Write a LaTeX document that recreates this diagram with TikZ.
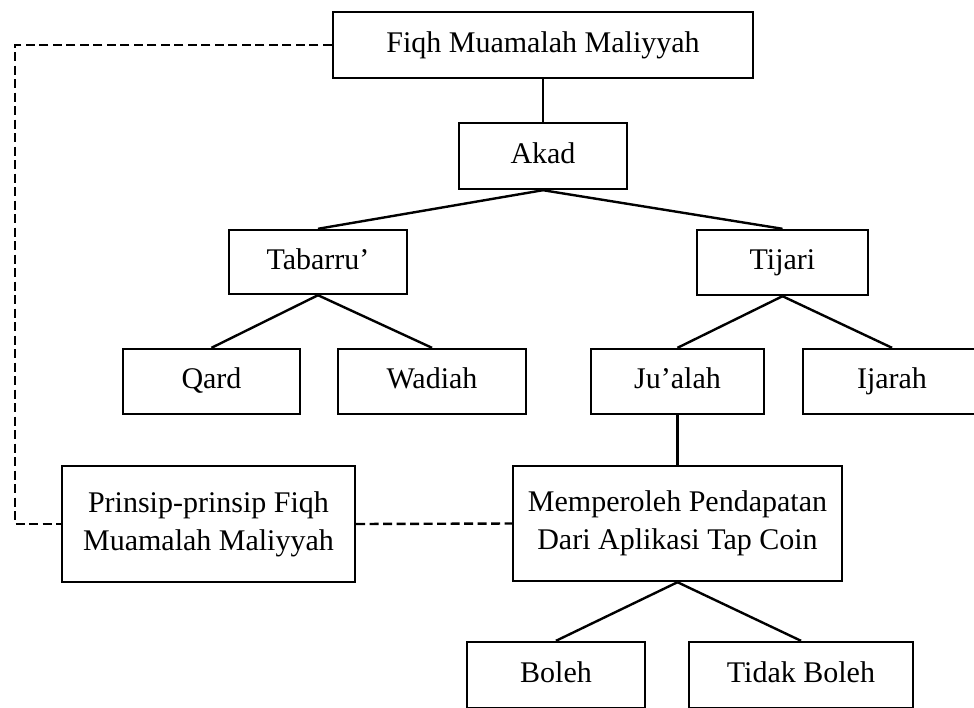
\documentclass[tikz,border=0pt]{standalone}
\usepackage{fontspec}
\setmainfont{Liberation Serif}
\begin{document}
\begin{tikzpicture}[x=1pt,y=-1pt,
  boxbase/.style={draw,line width=2.4pt,inner sep=0pt,
    font=\fontsize{30}{38}\selectfont},
  box/.style={boxbase,text height=20pt,text depth=6pt},
  box2/.style={boxbase,align=center},
  link/.style={line width=2.4pt},
  dlink/.style={line width=2.4pt,dash pattern=on 9pt off 4.5pt}]
\clip (0,0) rectangle (974,707);
\useasboundingbox (0,0) rectangle (974,707);
\node[box,minimum width=420pt,minimum height=66pt] (fiqh) at (543,45) {Fiqh Muamalah Maliyyah};
\node[box,minimum width=168pt,minimum height=66pt] (akad) at (543,156) {Akad};
\node[box,minimum width=178pt,minimum height=64pt] (tab) at (318,262) {Tabarru’};
\node[box,minimum width=171pt,minimum height=65pt] (tij) at (782.5,262.5) {Tijari};
\node[box,minimum width=177pt,minimum height=65pt] (qard) at (211.5,381.5) {Qard};
\node[box,minimum width=188pt,minimum height=65pt] (wad) at (432,381.5) {Wadiah};
\node[box,minimum width=173pt,minimum height=65pt] (jua) at (677.5,381.5) {Ju’alah};
\node[box,minimum width=178pt,minimum height=65pt] (ija) at (892,381.5) {Ijarah};
\node[box2,minimum width=293pt,minimum height=116pt] (prin) at (208.5,524) {Prinsip-prinsip Fiqh\\Muamalah Maliyyah};
\node[box2,minimum width=329pt,minimum height=115pt] (mem) at (677.5,523.5) {Memperoleh Pendapatan\\Dari Aplikasi Tap Coin};
\node[box,minimum width=178pt,minimum height=66pt] (boleh) at (556,675) {Boleh};
\node[box,minimum width=224pt,minimum height=66pt] (tidak) at (801,675) {Tidak Boleh};
\coordinate (dcorner) at (15,45);
\draw[link] (fiqh.south) -- (akad.north);
\draw[link] (akad.south) -- (tab.north);
\draw[link] (akad.south) -- (tij.north);
\draw[link] (tab.south) -- (qard.north);
\draw[link] (tab.south) -- (wad.north);
\draw[link] (tij.south) -- (jua.north);
\draw[link] (tij.south) -- (ija.north);
\draw[link] (jua.south) -- (mem.north);
\draw[link] (mem.south) -- (boleh.north);
\draw[link] (mem.south) -- (tidak.north);
\draw[dlink] (fiqh.west) -- (dcorner) |- (prin.west);
\draw[dlink] (prin.east) -- (mem.west);
\end{tikzpicture}
\end{document}
